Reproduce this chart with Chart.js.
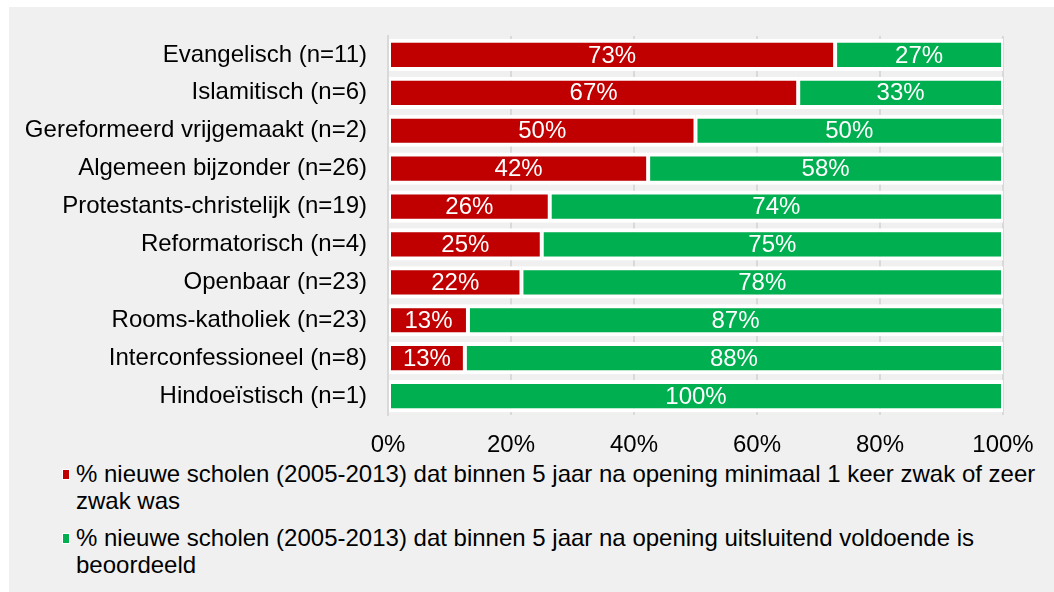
<!DOCTYPE html>
<html>
<head>
<meta charset="utf-8">
<script src="https://cdn.jsdelivr.net/npm/chart.js@4.4.1/dist/chart.umd.min.js"></script>
<style>
  html, body { margin: 0; padding: 0; background: #ffffff; }
  #panel { position: absolute; left: 9px; top: 7px; width: 1045px; height: 585px; background: #f0f0f0; }
  #wrap { position: absolute; left: 0; top: 0; width: 1045px; height: 450px; }
  #legend { position: absolute; left: 51px; top: 453px; width: 990px;
            font-family: "Liberation Sans", Arial, sans-serif; font-size: 24px; line-height: 27px; color: #000; }
  .item { position: relative; padding-left: 16px; margin-bottom: 10px; }
  .box { position: absolute; left: 2px; top: 9px; width: 6px; height: 9px; border: 1px solid #fff; }
</style>
</head>
<body>
<div id="panel">
  <div id="wrap"><canvas id="chart" width="1045" height="450"></canvas></div>
  <div id="legend"></div>
</div>
<script>
(function () {

// -------------------------------------------------------------------------------------------------------

var categories = [
    "Evangelisch (n=11)",
    "Islamitisch (n=6)",
    "Gereformeerd vrijgemaakt (n=2)",
    "Algemeen bijzonder (n=26)",
    "Protestants-christelijk (n=19)",
    "Reformatorisch (n=4)",
    "Openbaar (n=23)",
    "Rooms-katholiek (n=23)",
    "Interconfessioneel (n=8)",
    "Hindoeïstisch (n=1)"
];

var zwakValues      = [72.7, 66.7, 50, 42.3, 26.3, 25, 21.7, 13.0, 12.5, 0];
var voldoendeValues = [27.3, 33.3, 50, 57.7, 73.7, 75, 78.3, 87.0, 87.5, 100];

var seriesNames = [
    "% nieuwe scholen (2005-2013) dat binnen 5 jaar na opening minimaal 1 keer zwak of zeer zwak was",
    "% nieuwe scholen (2005-2013) dat binnen 5 jaar na opening uitsluitend voldoende is beoordeeld"
];

var tickValues = [0, 20, 40, 60, 80, 100];

var red = "#c00000";
var green = "#00b050";
var font = "'Liberation Sans', Arial, sans-serif";

// labels in the middle of each bar
var barLabels = {
    id: "barLabels",
    afterDatasetsDraw: function (chart) {
        var ctx = chart.ctx;
        ctx.save();
        ctx.fillStyle = "#ffffff";
        ctx.font = "24px " + font;
        ctx.textAlign = "center";
        ctx.textBaseline = "middle";
        chart.data.datasets.forEach(function (ds, i) {
            var meta = chart.getDatasetMeta(i);
            meta.data.forEach(function (bar, j) {
                var v = ds.data[j];
                if (!v) return;
                var p = bar.getProps(["x", "y", "base"], true);
                ctx.fillText(Math.round(v) + "%", (p.x + p.base) / 2, p.y + 1);
            });
        });
        ctx.restore();
    }
};

try {
    var ctx = document.getElementById("chart").getContext("2d");

    new Chart(ctx, {
        type: "bar",
        data: {
            labels: categories,
            datasets: [{
                label: seriesNames[0],
                data: zwakValues,
                backgroundColor: red,
                borderColor: "#ffffff",
                borderWidth: { top: 4, bottom: 4, left: 2, right: 2 },
                borderSkipped: false
            }, {
                label: seriesNames[1],
                data: voldoendeValues,
                backgroundColor: green,
                borderColor: "#ffffff",
                borderWidth: { top: 4, bottom: 4, left: 2, right: 2 },
                borderSkipped: false
            }]
        },
        options: {
            indexAxis: "y",
            responsive: false,
            animation: false,
            layout: { padding: { top: 29, right: 51, left: 0, bottom: 0 } },
            datasets: { bar: { barPercentage: 0.85, categoryPercentage: 1 } },
            plugins: {
                legend: { display: false },
                tooltip: { enabled: false }
            },
            scales: {
                x: {
                    stacked: true,
                    min: 0,
                    max: 100,
                    afterBuildTicks: function (scale) {
                        scale.ticks = tickValues.map(function (v) { return { value: v }; });
                    },
                    afterFit: function (scale) { scale.height = 42; },
                    grid: { color: "#d9d9d9", lineWidth: 2, drawTicks: false },
                    border: { display: false },
                    ticks: {
                        padding: 16,
                        color: "#000000",
                        font: { family: font, size: 24 },
                        callback: function (v) { return v + "%"; }
                    }
                },
                y: {
                    stacked: true,
                    afterFit: function (scale) {
                        scale.width = 379;
                        scale.paddingTop = 0;
                        scale.paddingBottom = 0;
                    },
                    grid: { display: false, drawTicks: false },
                    border: { display: true, color: "#d9d9d9", width: 2 },
                    ticks: {
                        padding: 21,
                        color: "#000000",
                        font: { family: font, size: 24 }
                    }
                }
            }
        },
        plugins: [barLabels]
    });
} catch (e) {
    console.log("Error in chart: " + e);
}

// legend with wrapping text
var legend = document.getElementById("legend");
[red, green].forEach(function (c, i) {
    var item = document.createElement("div");
    item.className = "item";
    var box = document.createElement("span");
    box.className = "box";
    box.style.background = c;
    item.appendChild(box);
    item.appendChild(document.createTextNode(seriesNames[i]));
    legend.appendChild(item);
});

// -------------------------------------------------------------------------------------------------------

})();
</script>
</body>
</html>
